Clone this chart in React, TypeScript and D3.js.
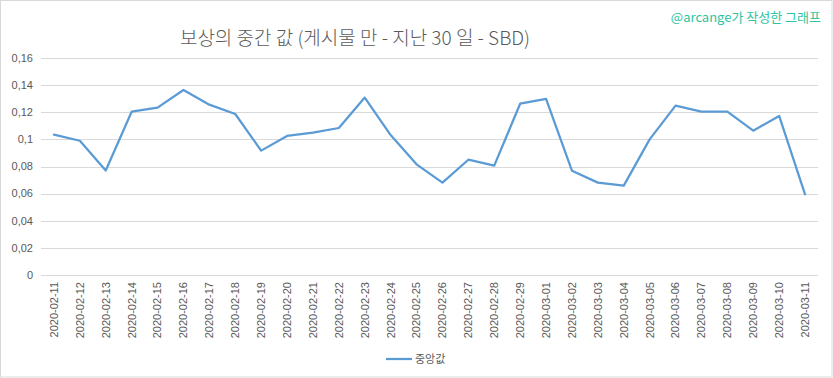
import React from "react";
import * as d3 from "d3";

const categories: string[] = [
  "2020-02-11","2020-02-12","2020-02-13","2020-02-14","2020-02-15","2020-02-16","2020-02-17","2020-02-18","2020-02-19","2020-02-20",
  "2020-02-21","2020-02-22","2020-02-23","2020-02-24","2020-02-25","2020-02-26","2020-02-27","2020-02-28","2020-02-29","2020-03-01",
  "2020-03-02","2020-03-03","2020-03-04","2020-03-05","2020-03-06","2020-03-07","2020-03-08","2020-03-09","2020-03-10","2020-03-11",
];
const medianValues: number[] = [
  0.1035, 0.099, 0.077, 0.1204, 0.1234, 0.1364, 0.1256, 0.1187, 0.0917, 0.1025,
  0.105, 0.1084, 0.1308, 0.1032, 0.0816, 0.0681, 0.085, 0.0806, 0.1263, 0.1298,
  0.0769, 0.0681, 0.0659, 0.1, 0.1249, 0.1204, 0.1204, 0.1064, 0.1173, 0.0595,
];
const yTicks: number[] = [0, 0.02, 0.04, 0.06, 0.08, 0.1, 0.12, 0.14, 0.16];
const title = "보상의 중간 값 (게시물 만 - 지난 30 일 - SBD)";
const watermark = "@arcange가 작성한 그래프";
const seriesName = "중앙값";

const W = 833;
const H = 378;
const plot = { left: 41, right: 818, top: 58, bottom: 275 };
const textColor = "#595959";
const lineColor = "#5b9bd5";
const font = "'Liberation Sans', 'Noto Sans CJK KR', sans-serif";
const krFont = "'Noto Sans CJK KR', sans-serif";

export default function App() {
  const x = d3.scaleBand<string>().domain(categories).range([plot.left, plot.right]);
  const y = d3.scaleLinear().domain([0, 0.16]).range([plot.bottom, plot.top]);
  const cx = (c: string) => (x(c) as number) + x.bandwidth() / 2;
  const line = d3
    .line<number>()
    .x((_, i) => cx(categories[i]))
    .y((d) => y(d));
  const fmt = (v: number) => d3.format("~g")(+v.toFixed(2)).replace(".", ",");

  return (
    <svg
      width={W}
      height={H}
      style={{ position: "absolute", left: 0, top: 0, background: "#fff" }}
    >
      <rect x={0.5} y={0.5} width={W - 1.5} height={H - 1.5} fill="#fff" stroke="#d9d9d9" />
      <text x={355} y={45} textAnchor="middle" fontFamily={krFont} fontSize={19} fontWeight={300} fill={textColor}>
        {title}
      </text>
      <text x={821} y={22} textAnchor="end" fontFamily={krFont} fontSize={13} fill="#2ec4a0">
        {watermark}
      </text>
      {yTicks.map((t) => (
        <g key={t}>
          <line x1={plot.left} x2={plot.right} y1={Math.round(y(t)) + 0.5} y2={Math.round(y(t)) + 0.5} stroke="#d9d9d9" />
          <text x={33} y={y(t)} dy="0.35em" textAnchor="end" fontFamily={font} fontSize={11} fill={textColor}>
            {fmt(t)}
          </text>
        </g>
      ))}
      {categories.map((c) => (
        <text
          key={c}
          transform={`translate(${cx(c)},${plot.bottom + 7}) rotate(-90)`}
          dy="0.35em"
          textAnchor="end"
          fontFamily={font}
          fontSize={11}
          fill={textColor}
        >
          {c}
        </text>
      ))}
      <path d={line(medianValues) || ""} fill="none" stroke={lineColor} strokeWidth={2.25} strokeLinejoin="round" strokeLinecap="round" />
      <line x1={386} x2={412} y1={359} y2={359} stroke={lineColor} strokeWidth={2.25} />
      <text x={415} y={363} fontFamily={krFont} fontSize={11} fill={textColor}>
        {seriesName}
      </text>
    </svg>
  );
}
